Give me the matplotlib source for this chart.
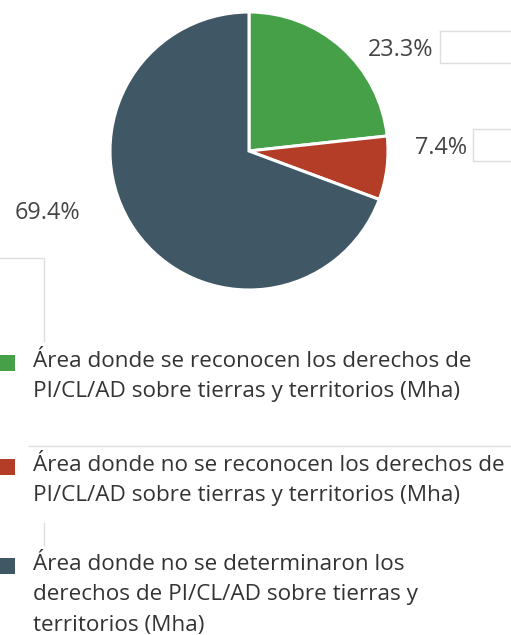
import matplotlib
matplotlib.use("Agg")
import matplotlib.pyplot as plt
from matplotlib.patches import Rectangle

categories = [
    "Área donde se reconocen los derechos de\nPI/CL/AD sobre tierras y territorios (Mha)",
    "Área donde no se reconocen los derechos de\nPI/CL/AD sobre tierras y territorios (Mha)",
    "Área donde no se determinaron los\nderechos de PI/CL/AD sobre tierras y\nterritorios (Mha)",
]
values = [23.3, 7.4, 69.4]
colors = ["#46a048", "#b33d26", "#405866"]

plt.rcParams['font.family'] = ['Open Sans', 'DejaVu Sans']

W, H = 511, 635
fig = plt.figure(figsize=(W / 100, H / 100), dpi=100)

# pie axes: center (249,151) px from top, radius 139
cx, cy, r = 249, 151, 139
ax = fig.add_axes([(cx - r) / W, (H - cy - r) / H, 2 * r / W, 2 * r / H])
wedges, _ = ax.pie(values, colors=colors, startangle=90, counterclock=False,
                   wedgeprops=dict(edgecolor="white", linewidth=2.2))
ax.set_xlim(-1, 1)
ax.set_ylim(-1, 1)
ax.set_aspect("equal")
ax.axis("off")

# overlay axes in pixel coordinates
ov = fig.add_axes([0, 0, 1, 1], zorder=5)
ov.set_xlim(0, W)
ov.set_ylim(H, 0)
ov.axis("off")

lab_color = "#444444"
pct_pos = [(433.5, 56, "right"), (467, 154, "right"), (47.5, 219.3, "center")]
for v, (x, y, ha) in zip(values, pct_pos):
    ov.text(x, y, f"{v:.1f}%", ha=ha, va="baseline", fontsize=16.8, color=lab_color)

# faint artifact boxes
gl = dict(color="#dddddd", lw=1.0)
ov.plot([439.5, 439.5, 511], [30.5, 62.5, 62.5], **gl)
ov.plot([439.5, 511], [30.5, 30.5], **gl)
ov.plot([472.5, 472.5, 511], [128.5, 160.5, 160.5], **gl)
ov.plot([472.5, 511], [128.5, 128.5], **gl)
ov.plot([0, 43.5, 43.5], [257.5, 257.5, 341], **gl)
ov.plot([29, 511], [445.5, 445.5], **gl)
ov.plot([43.5, 43.5], [523, 545], **gl)

# legend
entry_baselines = [366.7, 471, 570.2]
line_step = 30.2
for lab, col, b in zip(categories, colors, entry_baselines):
    ov.add_patch(Rectangle((0, b - 12), 15, 16, facecolor=col, edgecolor="none"))
    for i, line in enumerate(lab.split("\n")):
        ov.text(33, b + i * line_step, line, ha="left", va="baseline",
                fontsize=16.2, color="#333333")

fig.savefig("out.png", dpi=100)
